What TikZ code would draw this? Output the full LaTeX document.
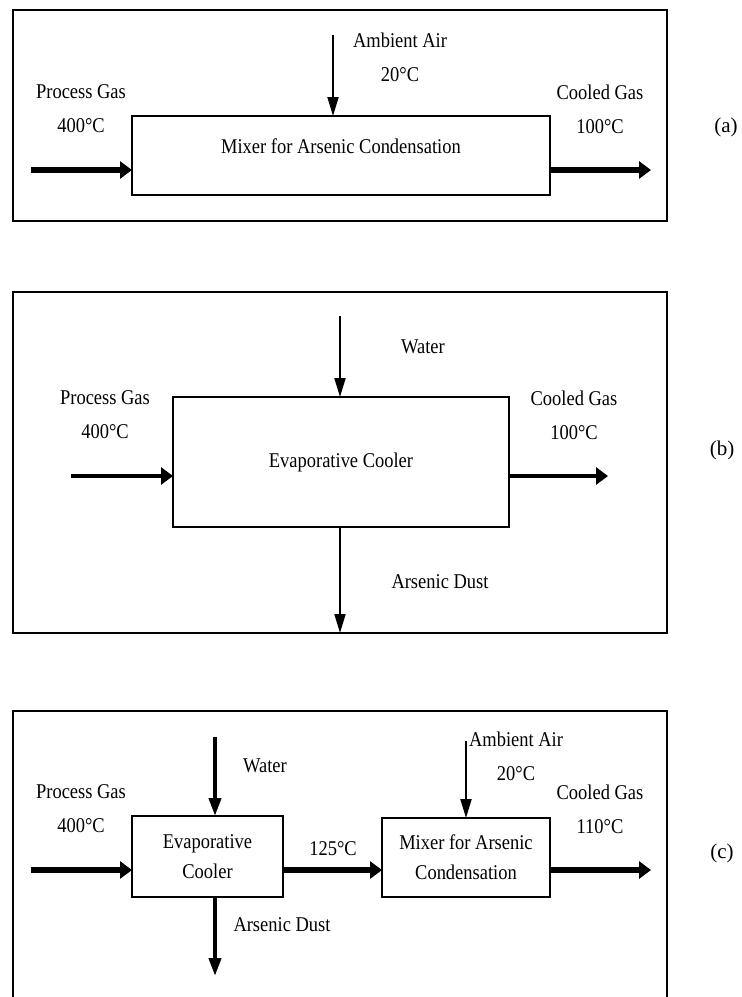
\documentclass[tikz,border=0pt]{standalone}
\usepackage{fontspec}
\setmainfont{Liberation Serif}
\newfontfamily\narrowserif[FakeStretch=0.88]{Liberation Serif}
\usetikzlibrary{arrows.meta}

\begin{document}
\begin{tikzpicture}[x=1pt, y=-1pt,
        box/.style={draw, line width=1.3pt, inner sep=0pt, outer sep=0pt,
                    align=center, font=\narrowserif\fontsize{21}{30}\selectfont},
        tag/.style={inner sep=0pt, align=center,
                    font=\narrowserif\fontsize{21}{34}\selectfont},
        paneltag/.style={inner sep=0pt, font=\fontsize{21}{24}\selectfont},
        frame/.style={line width=1.6pt},
        bigarr/.style={-{Triangle[length=12pt, width=17pt]}, line width=5.5pt},
        midarr/.style={-{Triangle[length=12pt, width=17pt]}, line width=4pt},
        arr/.style={-{Triangle[length=19pt, width=11pt]}, line width=2pt},
        stemarr/.style={-{Triangle[length=18pt, width=12pt]}, line width=4pt}
      ]
        \useasboundingbox (0,0) rectangle (742,997);

        % (a) mixer only
        \draw[frame] (13,10) rectangle (667,221);
        \node[box, minimum width=418pt, minimum height=79pt, text depth=18pt]
              (mixA) at (341,155.5) {Mixer for Arsenic Condensation};
        \coordinate (inA) at (31,170);
        \coordinate (outA) at (651,170);
        \coordinate (airA) at (333,35);
        \draw[bigarr] (inA) -- (inA -| mixA.west);
        \draw[bigarr] (mixA.east |- outA) -- (outA);
        \draw[arr] (airA) -- (airA |- mixA.north);
        \node[tag] (gasA) at (81,109) {Process Gas\\400°C};
        \node[tag] (airtagA) at (400,57) {Ambient Air\\20°C};
        \node[tag] (coolA) at (600,109) {Cooled Gas\\100°C};
        \node[paneltag] (capA) at (726,127) {(a)};

        % (b) evaporative cooler only
        \draw[frame] (13,292) rectangle (667,633);
        \node[box, minimum width=336pt, minimum height=130pt]
              (evapB) at (341,462) {Evaporative Cooler};
        \coordinate (inB) at (71,476);
        \coordinate (outB) at (608,476);
        \coordinate (waterB) at (340,316);
        \coordinate (dustB) at (340,633);
        \draw[midarr] (inB) -- (inB -| evapB.west);
        \draw[midarr] (evapB.east |- outB) -- (outB);
        \draw[arr] (waterB) -- (waterB |- evapB.north);
        \draw[arr] (dustB |- evapB.south) -- (dustB);
        \node[tag] (gasB) at (105,415) {Process Gas\\400°C};
        \node[tag] (watertagB) at (423,347) {Water};
        \node[tag] (coolB) at (574,415) {Cooled Gas\\100°C};
        \node[tag] (dusttagB) at (440,582) {Arsenic Dust};
        \node[paneltag] (capB) at (722,450) {(b)};

        % (c) cooler then mixer
        \draw[frame] (13,997) -- (13,711) -- (667,711) -- (667,997);
        \node[box, minimum width=151pt, minimum height=81pt]
              (evapC) at (207.5,856.5) {Evaporative\\Cooler};
        \node[box, minimum width=168pt, minimum height=79pt]
              (mixC) at (466,857.5) {Mixer for Arsenic\\Condensation};
        \coordinate (inC) at (31,870);
        \coordinate (outC) at (651,870);
        \coordinate (waterC) at (215,737);
        \coordinate (dustC) at (215,976);
        \coordinate (airC) at (466,741);
        \draw[bigarr] (inC) -- (inC -| evapC.west);
        \draw[bigarr] (evapC.east |- inC) -- (inC -| mixC.west);
        \draw[bigarr] (mixC.east |- outC) -- (outC);
        \draw[stemarr] (waterC) -- (waterC |- evapC.north);
        \draw[stemarr] (dustC |- evapC.south) -- (dustC);
        \draw[arr] (airC) -- (airC |- mixC.north);
        \node[tag] (gasC) at (81,809) {Process Gas\\400°C};
        \node[tag] (watertagC) at (265,766) {Water};
        \node[tag] (airtagC) at (516,756) {Ambient Air\\20°C};
        \node[tag] (coolC) at (600,809) {Cooled Gas\\110°C};
        \node[tag] (midtagC) at (333,849) {125°C};
        \node[tag] (dusttagC) at (282,925) {Arsenic Dust};
        \node[paneltag] (capC) at (722,853) {(c)};
      \end{tikzpicture}
\end{document}
